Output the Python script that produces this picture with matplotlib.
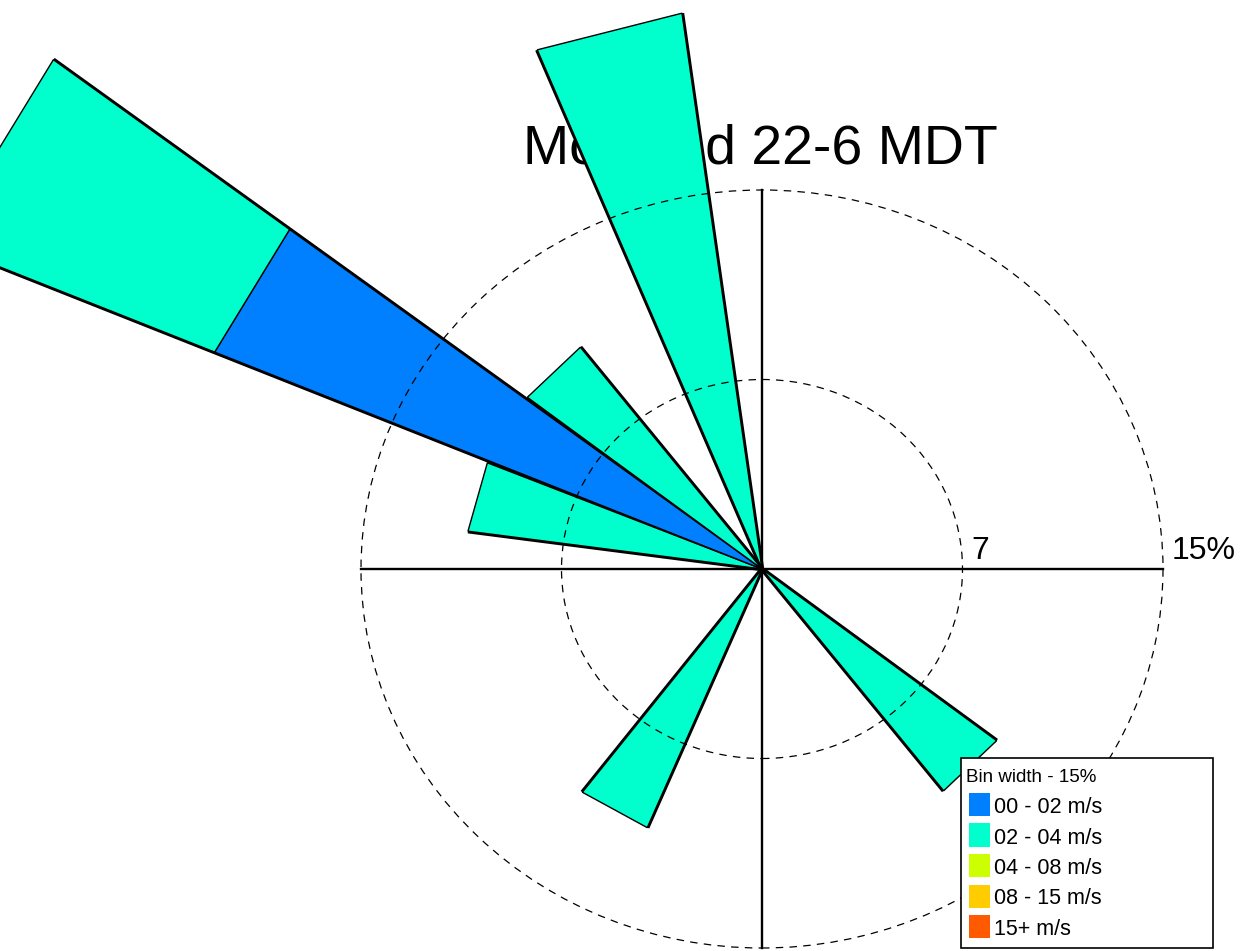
import matplotlib
matplotlib.use("Agg")
import matplotlib.pyplot as plt
import numpy as np
from matplotlib.patches import Circle, Rectangle

# Directions (deg, compass) et fréquences (%) par classe de vitesse
directions = [135, 210, 285, 300, 315, 345]
freq_00_02 = [0.0, 0.0, 0.0, 22.2, 0.0, 0.0]
freq_02_04 = [11.1, 11.1, 11.1, 11.1, 11.1, 22.2]
freq_04_08 = [0.0, 0.0, 0.0, 0.0, 0.0, 0.0]
freq_08_15 = [0.0, 0.0, 0.0, 0.0, 0.0, 0.0]
freq_15p = [0.0, 0.0, 0.0, 0.0, 0.0, 0.0]

speed_labels = ['00 - 02 m/s', '02 - 04 m/s', '04 - 08 m/s', '08 - 15 m/s', '15+ m/s']
speed_colors = ['#0080FF', '#00FFCC', '#CCFF00', '#FFCC00', '#FF5A00']
rings = [7.5, 15]
ring_labels = ['7', '15%']
title = 'Modeled 22-6 MDT'

W, H = 1241, 951
cx, cy = 762, 569          # centre en pixels
rx, ry = 401, 379          # rayon de l'anneau 15% en pixels
half_width = 7.25          # demi-largeur d'un secteur (deg)

plt.rcParams['font.family'] = ['Liberation Sans', 'DejaVu Sans']

fig = plt.figure(figsize=(W / 100, H / 100), dpi=100)
ax = fig.add_axes([0, 0, 1, 1])
ax.set_xlim(-cx * 15 / rx, (W - cx) * 15 / rx)
ax.set_ylim(-(H - cy) * 15 / ry, cy * 15 / ry)
ax.axis('off')


def pol(r, ang):
    a = np.deg2rad(ang)
    return r * np.sin(a), r * np.cos(a)


# titre sous les secteurs
ax.text(0.6125, 1 - 150 / H, title, transform=ax.transAxes, ha='center', va='center',
        fontsize=40, zorder=1)

stack = [freq_00_02, freq_02_04, freq_04_08, freq_08_15, freq_15p]
for i, d in enumerate(directions):
    a1, a2 = d - half_width, d + half_width
    total = sum(s[i] for s in stack)
    # bords épais (ombre)
    for a in (a1, a2):
        x, y = pol(total, a)
        ax.plot([0, x], [0, y], color='black', lw=3.2, solid_capstyle='butt', zorder=2)
    r0 = 0.0
    for s, col in zip(stack, speed_colors):
        v = s[i]
        if v <= 0:
            continue
        r1 = r0 + v
        pts = [pol(r0, a1), pol(r1, a1), pol(r1, a2), pol(r0, a2)]
        ax.fill([p[0] for p in pts], [p[1] for p in pts], facecolor=col,
                edgecolor='black', lw=1.0, zorder=3)
        r0 = r1

# anneaux et axes
for r in rings:
    ax.add_patch(Circle((0, 0), r, fill=False, ls=(0, (6, 5)), lw=0.9,
                        edgecolor='black', zorder=4))
ax.plot([-15, 15], [0, 0], color='black', lw=1.7, zorder=5)
ax.plot([0, 0], [-15, 15], color='black', lw=1.7, zorder=5)
for r, lab in zip(rings, ring_labels):
    ax.text(r + 0.33, 0.12, lab, ha='left', va='bottom', fontsize=23, zorder=5)

# légende
def fx(px):
    return px / W


def fy(py):
    return 1 - py / H


ax.add_patch(Rectangle((fx(961), fy(948)), fx(1213) - fx(961), fy(758) - fy(948),
                       transform=ax.transAxes, facecolor='white', edgecolor='black',
                       lw=1.2, zorder=10))
ax.text(fx(966), fy(782), 'Bin width - 15%', transform=ax.transAxes, ha='left',
        va='baseline', fontsize=13.5, zorder=11)
for k, (lab, col) in enumerate(zip(speed_labels, speed_colors)):
    top = 793 + k * 30.5
    ax.add_patch(Rectangle((fx(969), fy(top + 23)), fx(990) - fx(969), fy(top) - fy(top + 23),
                           transform=ax.transAxes, facecolor=col, edgecolor='none', zorder=11))
    ax.text(fx(994), fy(top + 20), lab, transform=ax.transAxes, ha='left', va='baseline',
            fontsize=15.5, zorder=11)

fig.savefig('out.png', dpi=100)
